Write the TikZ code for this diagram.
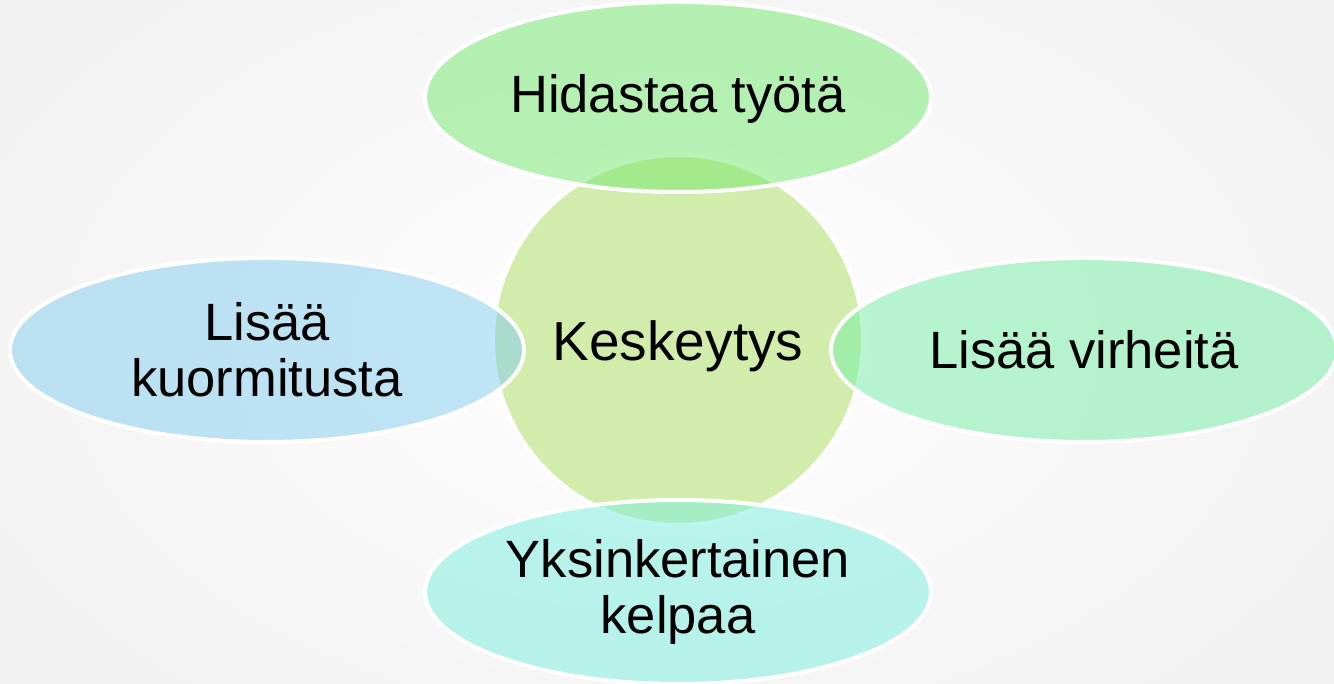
\documentclass[tikz,border=0pt]{standalone}
\usepackage{fontspec}
\setmainfont{Liberation Sans}
\usetikzlibrary{shapes.geometric}
\definecolor{bgout}{RGB}{240,240,240}
\definecolor{cC}{RGB}{210,237,171}
\definecolor{cTop}{RGB}{115,233,111}
\definecolor{cLeft}{RGB}{129,205,239}
\definecolor{cRight}{RGB}{115,237,165}
\definecolor{cBot}{RGB}{119,237,223}
\begin{document}
\begin{tikzpicture}[x=1pt,y=-1pt,
  lbl/.style={font=\fontsize{52.5}{56}\selectfont, align=center, text=black, text opacity=1},
  oval/.style={ellipse, draw=white, line width=4pt, fill opacity=0.5, draw opacity=1, inner sep=0pt, lbl},
  hub/.style={circle, draw=white, line width=4pt, fill=cC, inner sep=0pt, minimum size=370pt, lbl, font=\fontsize{55}{60}\selectfont}]
\useasboundingbox (0,0) rectangle (1334,684);
\shade[inner color=white, outer color=bgout] (-200,-200) rectangle (1534,884);
\node[hub] (center) at (678,340) {\raisebox{-6pt}[\height][\depth]{Keskeytys}};
\node[oval, fill=cTop, minimum width=506pt, minimum height=190pt] (top) at (678,97) {\raisebox{-2pt}[\height][\depth]{Hidastaa työtä}};
\node[oval, fill=cLeft, minimum width=514pt, minimum height=184pt] (left) at (267,350) {Lisää\\kuormitusta};
\node[oval, fill=cRight, minimum width=506pt, minimum height=184pt] (right) at (1084,350) {Lisää virheitä};
\node[oval, fill=cBot, minimum width=506pt, minimum height=184pt] (bottom) at (678,592) {Yksinkertainen\\kelpaa};
\end{tikzpicture}
\end{document}
